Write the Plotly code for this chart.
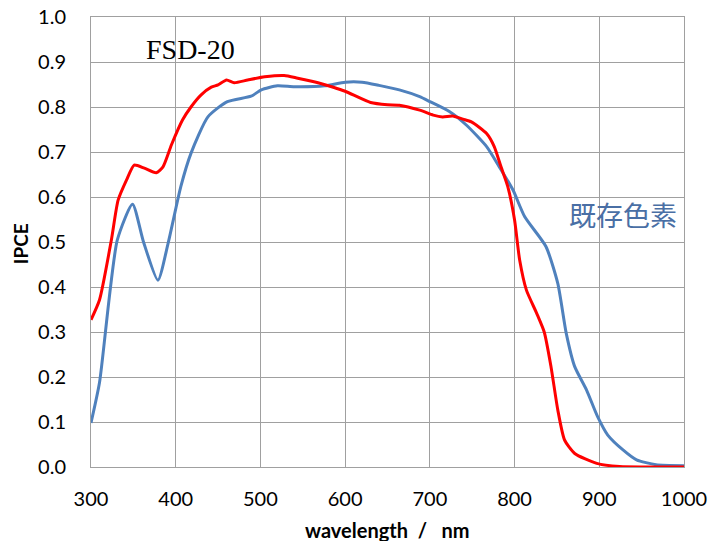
import plotly.graph_objects as go

# Existing dye (blue)
wl_blue = [300, 310, 331, 349, 362, 379, 391, 406, 418, 438, 461, 489, 501, 520, 540, 576,
           600, 620, 640, 664, 688, 700, 723, 743, 767, 782, 798, 812, 837, 851, 861, 871,
           885, 898, 910, 928, 944, 967, 1000]
ipce_blue = [0.098, 0.187, 0.504, 0.584, 0.50, 0.415, 0.497, 0.623, 0.697, 0.778, 0.812, 0.824, 0.838,
             0.847, 0.845, 0.847, 0.855, 0.855, 0.848, 0.838, 0.823, 0.812, 0.790, 0.760, 0.712,
             0.667, 0.616, 0.556, 0.49, 0.408, 0.297, 0.223, 0.171, 0.112, 0.071, 0.038, 0.016,
             0.005, 0.003]

# FSD-20 (red)
wl_red = [300, 310, 324, 332, 342, 351, 363, 377, 385, 395, 408, 418, 430, 442, 450, 460, 469,
          485, 505, 528, 544, 568, 586, 600, 630, 650, 664, 688, 704, 715, 727, 739, 749, 767,
          776, 784, 792, 800, 806, 814, 826, 835, 843, 851, 859, 871, 897, 924, 960, 1000]
ipce_red = [0.327, 0.371, 0.504, 0.593, 0.638, 0.671, 0.664, 0.654, 0.667, 0.716, 0.771, 0.80,
            0.827, 0.844, 0.849, 0.86, 0.854, 0.86, 0.867, 0.87, 0.864, 0.854, 0.844, 0.835,
            0.81, 0.805, 0.804, 0.793, 0.782, 0.778, 0.78, 0.773, 0.767, 0.741, 0.712, 0.667,
            0.623, 0.549, 0.46, 0.393, 0.342, 0.30, 0.223, 0.127, 0.06, 0.03, 0.008, 0.001,
            0.0, 0.0]

x_ticks = [300, 400, 500, 600, 700, 800, 900, 1000]
y_ticks = [0.0, 0.1, 0.2, 0.3, 0.4, 0.5, 0.6, 0.7, 0.8, 0.9, 1.0]

fig = go.Figure()
fig.add_trace(go.Scatter(x=wl_blue, y=ipce_blue, mode="lines",
                         line=dict(color="#4f81bd", width=3, shape="spline", smoothing=0.6),
                         showlegend=False))
fig.add_trace(go.Scatter(x=wl_red, y=ipce_red, mode="lines",
                         line=dict(color="#ff0000", width=3, shape="spline", smoothing=0.6),
                         showlegend=False))

fig.add_annotation(x=418, y=0.927, xref="x", yref="y", text="FSD-20", showarrow=False,
                   font=dict(family="Liberation Serif", size=28, color="black"))
fig.add_annotation(x=928, y=0.562, xref="x", yref="y", text="既存色素", showarrow=False,
                   font=dict(family="Noto Sans CJK JP", size=27, color="#4a6fa5"))

# axis titles
fig.add_annotation(x=0.5, y=-0.14, xref="paper", yref="paper", text="<b>wavelength  /   nm</b>",
                   xanchor="center", yanchor="middle",
                   showarrow=False, font=dict(family="Lato", size=20, color="black"))
fig.add_annotation(x=-0.119, y=0.496, xref="paper", yref="paper", text="<b>IPCE</b>", textangle=-90,
                   xanchor="center", yanchor="middle",
                   showarrow=False, font=dict(family="Lato", size=19, color="black"))

axis_common = dict(showgrid=True, gridcolor="#a0a0a0", gridwidth=1, automargin=False,
                   showline=True, linecolor="#a0a0a0", linewidth=1, mirror=True,
                   zeroline=False, ticks="", tickfont=dict(family="Lato", size=20, color="black"))

fig.update_xaxes(range=[300, 1000], tickvals=x_ticks, ticktext=[str(v) for v in x_ticks],
                 ticklabelstandoff=14, **axis_common)
fig.update_yaxes(range=[0, 1.0], tickvals=y_ticks, ticktext=[f"{v:.1f}" for v in y_ticks],
                 ticklabelstandoff=20, **axis_common)

fig.update_layout(width=708, height=541, margin=dict(l=91, r=24, t=17, b=74),
                  plot_bgcolor="white", paper_bgcolor="white")

fig.write_html("out.html")
